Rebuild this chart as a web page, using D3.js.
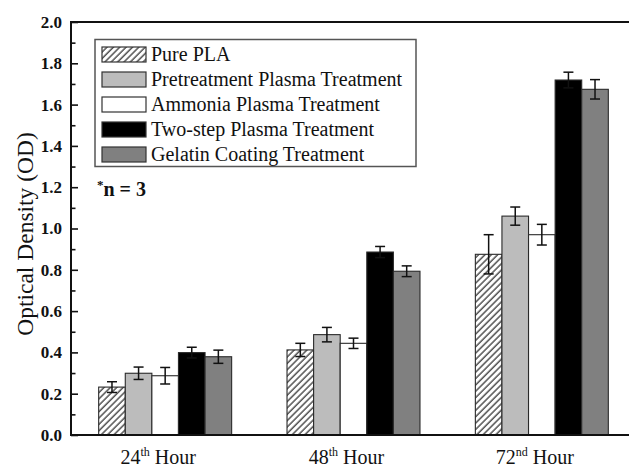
<!DOCTYPE html>
<html>
<head>
<meta charset="utf-8">
<script src="https://cdn.jsdelivr.net/npm/d3@7"></script>
<style>
  body { margin: 0; background: #fff; }
  svg { display: block; font-family: "Liberation Serif", "Times New Roman", serif; }
</style>
</head>
<body>
<svg id="chart" width="629" height="470"></svg>
<script>
// optical density per time point, five surface treatments
const hours = ["24", "48", "72"];
const hourSuffix = ["th", "th", "nd"];
const seriesNames = [
    "Pure PLA",
    "Pretreatment Plasma Treatment",
    "Ammonia Plasma Treatment",
    "Two-step Plasma Treatment",
    "Gelatin Coating Treatment"
];
const pureVals = [0.232, 0.412, 0.875];
const pureErr = [0.026, 0.032, 0.095];
const pretreatVals = [0.299, 0.486, 1.06];
const pretreatErr = [0.030, 0.035, 0.044];
const ammoniaVals = [0.287, 0.444, 0.97];
const ammoniaErr = [0.040, 0.025, 0.050];
const twoStepVals = [0.399, 0.886, 1.719];
const twoStepErr = [0.026, 0.027, 0.038];
const gelatinVals = [0.379, 0.793, 1.674];
const gelatinErr = [0.032, 0.026, 0.047];
const yTicks = [0.0, 0.2, 0.4, 0.6, 0.8, 1.0, 1.2, 1.4, 1.6, 1.8, 2.0];
const yMinorTicks = [0.1, 0.3, 0.5, 0.7, 0.9, 1.1, 1.3, 1.5, 1.7, 1.9];

(function () {
    const svg = d3.select("#chart");
    const left = 71, right = 636, top = 22, bottom = 435;

    const allVals = [pureVals, pretreatVals, ammoniaVals, twoStepVals, gelatinVals];
    const allErr = [pureErr, pretreatErr, ammoniaErr, twoStepErr, gelatinErr];
    const fills = ["url(#hatch)", "#bcbcbc", "#ffffff", "#000000", "#808080"];

    const rows = [];
    hours.forEach((h, gi) => {
        seriesNames.forEach((s, si) => {
            rows.push({hour: h, series: s, si: si, value: allVals[si][gi], err: allErr[si][gi]});
        });
    });

    const x = d3.scaleBand().domain(hours).range([left, right])
        .paddingInner(0.294).paddingOuter(0.147);
    const xs = d3.scaleBand().domain(seriesNames).range([0, x.bandwidth()]);
    const y = d3.scaleLinear().domain([0, 2.0]).range([bottom, top]);

    const defs = svg.append("defs");
    defs.append("pattern")
        .attr("id", "hatch")
        .attr("patternUnits", "userSpaceOnUse")
        .attr("width", 4.5).attr("height", 4.5)
        .attr("patternTransform", "rotate(45)")
        .call(p => {
            p.append("rect").attr("width", 4.5).attr("height", 4.5).attr("fill", "#fff");
            p.append("line").attr("x1", 1).attr("y1", 0).attr("x2", 1).attr("y2", 4.5)
                .attr("stroke", "#111").attr("stroke-width", 1.1);
        });

    // bars
    svg.append("g").selectAll("rect")
        .data(rows)
        .join("rect")
        .attr("x", d => x(d.hour) + xs(d.series))
        .attr("y", d => y(d.value))
        .attr("width", xs.bandwidth())
        .attr("height", d => y(0) - y(d.value))
        .attr("fill", d => fills[d.si])
        .attr("stroke", "#2a2a2a")
        .attr("stroke-width", 1.1);

    // error bars
    const eb = svg.append("g").attr("stroke", "#111").attr("stroke-width", 1.5);
    rows.forEach(d => {
        const cx = x(d.hour) + xs(d.series) + xs.bandwidth() / 2;
        const y1 = y(d.value + d.err), y2 = y(d.value - d.err);
        eb.append("line").attr("x1", cx).attr("x2", cx).attr("y1", y1).attr("y2", y2);
        eb.append("line").attr("x1", cx - 5).attr("x2", cx + 5).attr("y1", y1).attr("y2", y1);
        eb.append("line").attr("x1", cx - 5).attr("x2", cx + 5).attr("y1", y2).attr("y2", y2);
    });

    // frame
    svg.append("rect")
        .attr("x", left).attr("y", top)
        .attr("width", right - left).attr("height", bottom - top)
        .attr("fill", "none").attr("stroke", "#111").attr("stroke-width", 2);

    // left axis with inward ticks
    const yAxis = svg.append("g")
        .attr("transform", `translate(${left},0)`)
        .call(d3.axisRight(y).tickValues(yTicks).tickSize(7).tickFormat(""));
    yAxis.select(".domain").remove();
    yAxis.selectAll("line").attr("stroke", "#111").attr("stroke-width", 1.6);

    const yMinor = svg.append("g")
        .attr("transform", `translate(${left},0)`)
        .call(d3.axisRight(y).tickValues(yMinorTicks).tickSize(4.5).tickFormat(""));
    yMinor.select(".domain").remove();
    yMinor.selectAll("line").attr("stroke", "#111").attr("stroke-width", 1.6);

    // right mirrored ticks
    const yRight = svg.append("g")
        .attr("transform", `translate(${right},0)`)
        .call(d3.axisLeft(y).tickValues(yTicks).tickSize(7).tickFormat(""));
    yRight.select(".domain").remove();
    yRight.selectAll("line").attr("stroke", "#111").attr("stroke-width", 1.6);

    // tick labels
    svg.append("g").selectAll("text")
        .data(yTicks)
        .join("text")
        .attr("x", left - 9)
        .attr("y", d => y(d))
        .attr("dy", "0.35em")
        .attr("text-anchor", "end")
        .attr("font-size", 17)
        .attr("font-weight", "bold")
        .attr("fill", "#111")
        .text(d => d.toFixed(1));

    // y title
    svg.append("text")
        .attr("transform", `translate(33, 234) rotate(-90)`)
        .attr("text-anchor", "middle")
        .attr("font-size", 23.5)
        .attr("fill", "#111")
        .text("Optical Density (OD)");

    // x labels
    const xl = svg.append("g").selectAll("text")
        .data(hours)
        .join("text")
        .attr("x", d => x(d) + x.bandwidth() / 2 - 7)
        .attr("y", 464)
        .attr("text-anchor", "middle")
        .attr("font-size", 20)
        .attr("fill", "#111");
    xl.append("tspan").text(d => d);
    xl.append("tspan").attr("font-size", 12).attr("dy", -8).text((d, i) => hourSuffix[i]);
    xl.append("tspan").attr("dy", 8).text(" Hour");

    // legend
    const lg = svg.append("g");
    lg.append("rect")
        .attr("x", 95).attr("y", 39.5)
        .attr("width", 321).attr("height", 127)
        .attr("fill", "#fff").attr("stroke", "#555").attr("stroke-width", 1.5);
    seriesNames.forEach((s, i) => {
        const by = 60.5 + i * 25;
        lg.append("rect")
            .attr("x", 102).attr("y", by - 13.5)
            .attr("width", 44).attr("height", 15)
            .attr("fill", fills[i]).attr("stroke", "#333").attr("stroke-width", 1.2);
        lg.append("text")
            .attr("x", 151).attr("y", by)
            .attr("font-size", 20).attr("fill", "#111")
            .text(s);
    });

    // sample size note
    const note = svg.append("text")
        .attr("x", 97).attr("y", 196)
        .attr("font-size", 20).attr("font-weight", "bold").attr("fill", "#111");
    note.append("tspan").attr("font-size", 13).attr("dy", -7).text("*");
    note.append("tspan").attr("dy", 7).text("n = 3");
})();
</script>
</body>
</html>
